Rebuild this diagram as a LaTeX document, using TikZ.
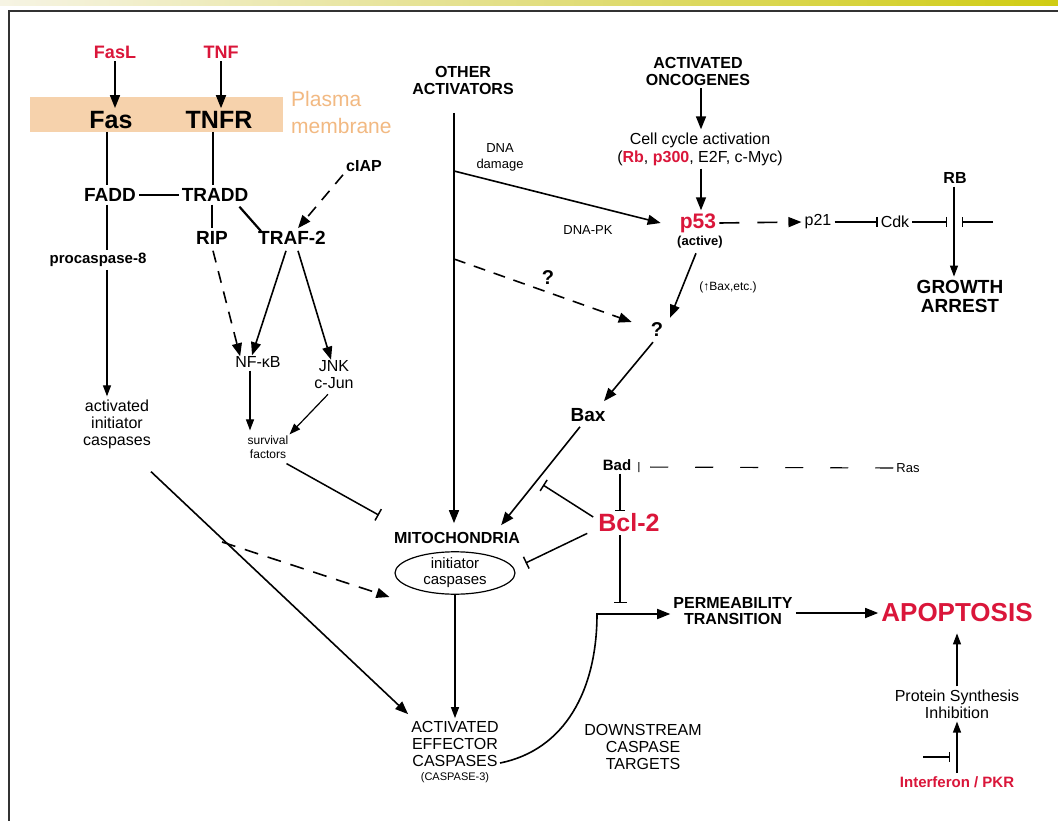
\documentclass[tikz,border=0pt]{standalone}
\usepackage{fontspec}
\setmainfont{Liberation Sans}
\usetikzlibrary{arrows.meta,calc,shapes.geometric}
\definecolor{myred}{RGB}{218,22,58}
\definecolor{memb}{RGB}{246,210,172}
\definecolor{membtxt}{RGB}{242,185,130}
\definecolor{barL}{RGB}{246,244,228}
\definecolor{barM}{RGB}{226,222,130}
\definecolor{barR}{RGB}{208,204,18}
\newcommand\fz[2]{\fontsize{#1}{#2}\selectfont}
\begin{document}
\begin{tikzpicture}[x=1pt,y=-1pt,
 lbl/.style={inner sep=3pt, align=center},
 arr/.style={line width=1.6pt,-{Triangle[length=13pt,width=10pt]}},
 tarr/.style={line width=1.2pt,-{Triangle[length=11pt,width=8pt]}},
 plain/.style={line width=1.6pt},
 inh/.style={line width=1.5pt,-{Bar[width=13pt,line width=1.5pt]}},
 tinh/.style={line width=1.1pt,-{Bar[width=10pt,line width=1.1pt]}},
 dsh/.style={dash pattern=on 12pt off 9pt},
]
\useasboundingbox (0,0) rectangle (1058,821);
\fill[white] (0,0) rectangle (1058,821);
\shade[left color=barL, right color=barR, middle color=barM] (0,0) rectangle (1058,6);
\draw[line width=2.5pt,black!80] (9,821) -- (9,11) -- (1058,11);

% membrane band
\fill[memb] (30,97) rectangle (283,132);
\node[anchor=west, align=left, inner sep=0pt, text=membtxt, font=\fz{21}{27}] (pm) at (291,112) {Plasma\\membrane};

% left receptors
\node[lbl,text=myred,font=\bfseries\fz{18}{20}] (fasl) at (115,52) {FasL};
\node[lbl,text=myred,font=\bfseries\fz{18}{20}] (tnf) at (221,52) {TNF};
\node[lbl,font=\bfseries\fz{25}{27}] (fas) at (111,120) {Fas};
\node[lbl,font=\bfseries\fz{25}{27}] (tnfr) at (219,120) {TNFR};
\draw[arr] (fasl) -- (fasl |- fas.north);
\draw[arr] (tnf) -- (tnf |- tnfr.north);

\node[lbl,font=\bfseries\fz{19}{21}] (fadd) at (110,195) {FADD};
\node[lbl,font=\bfseries\fz{19}{21}] (tradd) at (215,195) {TRADD};
\node[lbl,font=\bfseries\fz{19}{21}] (rip) at (212,238) {RIP};
\node[lbl,font=\bfseries\fz{19}{21}] (traf) at (292,238) {TRAF-2};
\node[lbl,font=\bfseries\fz{16}{18}] (ciap) at (364,166) {cIAP};
\node[lbl,font=\bfseries\fz{15}{17}] (proc) at (98,260) {procaspase-8};

\draw[plain] (fas.south -| 107,0) -- (fadd.north -| 107,0);
\draw[plain] (tnfr.south -| 213,0) -- (tradd.north -| 213,0);
\draw[plain] (fadd.east) -- (tradd.west);
\draw[plain] (fadd.south -| 107,0) -- (proc.north -| 107,0);
\draw[plain] (tradd.south -| 212,0) -- (rip.north -| 212,0);
\draw[line width=2.2pt] ($(tradd.south east)+(-12,2)$) -- ($(traf.north west)+(6,3)$);
\draw[arr,dsh] (ciap.south west) -- ($(traf.north)+(6,0)$);

% NF-kB branch
\node[lbl,font=\fz{16}{18}] (nfkb) at (258,362) {NF-κB};
\node[lbl,font=\fz{16}{17}] (jnk) at (334,375) {JNK\\c-Jun};
\node[lbl,font=\fz{12}{14}] (surv) at (268,447) {survival\\factors};
\draw[arr,dsh] ($(rip.south)+(1,3)$) -- ($(nfkb.north west)+(8,3)$);
\draw[arr] ($(traf.south)+(-6,3)$) -- ($(nfkb.north)+(-6,2)$);
\draw[arr] ($(traf.south)+(6,3)$) -- ($(jnk.north)+(-3,2)$);
\draw[tarr] ($(nfkb.south)+(-8,0)$) -- ($(surv.north)+(-18,-2)$);
\draw[tarr] ($(jnk.south)+(-6,2)$) -- ($(surv.north east)+(-2,2)$);

% activated initiator caspases
\node[lbl,font=\fz{16}{17}] (aic) at (117,424) {activated\\initiator\\caspases};
\draw[tarr] (proc.south -| 107,0) -- (aic.north -| 107,0);

% central column
\node[lbl,font=\bfseries\fz{16}{17}] (oa) at (463,80) {OTHER\\ACTIVATORS};
\coordinate (oatop) at (454,113);
\coordinate (dd) at (454,171);
\coordinate (dq) at (454,259);
\node[lbl,font=\bfseries\fz{16}{18}] (mito) at (457,538) {MITOCHONDRIA};
\node[draw, ellipse, line width=1.2pt, minimum width=120pt, minimum height=40pt, inner sep=0pt, align=center, font=\fz{15}{16}] (ell) at (455,573) {initiator\\caspases};
\draw[arr] (oatop) -- ($(oatop |- mito.north)+(0,-6)$);

\node[lbl,font=\fz{13}{16}] (dnad) at (500,157) {DNA\\damage};
\node[lbl,font=\fz{13}{15}] (dnapk) at (588,230) {DNA-PK};

% oncogene branch
\node[lbl,font=\bfseries\fz{16}{17}] (onc) at (698,71) {ACTIVATED\\ONCOGENES};
\node[lbl,font=\fz{16}{18}] (cca) at (700,149) {Cell cycle activation\\({\bfseries\color{myred}Rb}, {\bfseries\color{myred}p300}, E2F, c-Myc)};
\node[lbl,text=myred,font=\bfseries\fz{21}{23}] (p53) at (698,223) {p53};
\node[lbl,font=\bfseries\fz{13}{15}] (act) at (700,242) {(active)};
\draw[arr] (onc.south -| 701,0) -- (cca.north -| 701,0);
\draw[arr] (cca.south -| 701,0) -- (p53.north -| 701,0);
\draw[arr] (dd) -- ($(p53.west)+(-16,0)$);

\node[lbl,font=\fz{16}{18}] (p21) at (818,222) {p21};
\node[lbl,font=\fz{16}{18}] (cdk) at (895,222) {Cdk};
\draw[arr,dash pattern=on 20pt off 18pt] (p53.east) -- (p21.west);
\draw[tinh] (p21) -- (cdk);
\coordinate (rbl) at (947,222);
\coordinate (rbr) at (962,222);
\coordinate (rbe) at (993,222);
\draw[tinh] (cdk) -- (rbl);
\draw[tinh] (rbe) -- (rbr);
\node[lbl,font=\bfseries\fz{16}{18}] (rb) at (955,178) {RB};
\node[lbl,font=\bfseries\fz{19}{19}] (ga) at (960,296) {GROWTH\\ARREST};
\draw[tarr] (rb.south -| 954,0) -- (ga.north -| 954,0);

\node[lbl,font=\bfseries\fz{20}{22}] (q1) at (548,278) {?};
\node[lbl,font=\bfseries\fz{20}{22}] (q2) at (657,330) {?};
\node[lbl,font=\fz{12}{14}] (upbax) at (728,287) {(↑Bax,etc.)};
\draw[arr,dsh] (dq) -- ($(q2.west)+(-16,-8)$);
\draw[arr] ($(act.south)+(-4,2)$) -- ($(q2.north)+(13,-2)$);

\node[lbl,font=\bfseries\fz{19}{21}] (bax) at (588,415) {Bax};
\draw[arr] ($(q2.south)+(-4,2)$) -- ($(bax.north)+(16,-4)$);
\coordinate (baxmid) at (543,485);
\draw[arr] ($(bax.south)+(-8,2)$) -- ($(mito.north east)+(-22,-4)$);

\node[lbl,font=\bfseries\fz{15}{17}] (bad) at (617,465) {Bad};
\node[lbl,font=\fz{13}{15}] (ras) at (908,468) {Ras};
\node[lbl,text=myred,font=\bfseries\fz{25}{27}] (bcl) at (629,523) {Bcl-2};
\draw[tinh,dash pattern=on 18pt off 27pt] (ras.west) -- ($(bad.east)+(4,2)$);
\draw[tinh] (bad.south -| 620,0) -- (bcl.north -| 620,0);
\draw[inh] ($(bcl.west)+(-2,-6)$) -- (baxmid);
\draw[inh] ($(bcl.south west)+(-8,-2)$) -- ($(ell.east)+(10,-10)$);
\coordinate (ptbar) at (620,603);
\draw[inh] (bcl.south -| 620,0) -- (ptbar);

% survival inhibition and effector caspase pathway
\draw[inh] ($(surv.south east)+(-5,2)$) -- ($(mito.north west)+(-12,-14)$);
\node[lbl,font=\fz{16}{17}] (eff) at (455,744) {ACTIVATED\\EFFECTOR\\CASPASES};
\node[lbl,font=\fz{11}{13}] (c3) at (455,778) {(CASPASE-3)};
\draw[arr] ($(aic.south east)+(-3,20)$) -- ($(eff.north west)+(0,-4)$);
\coordinate (dstart) at (222,542);
\draw[arr,dash pattern=on 14pt off 10pt] (dstart) -- ($(ell.west)+(-5,24)$);
\draw[tarr] (ell.south) -- (ell.south |- eff.north);

% downstream
\node[lbl,font=\bfseries\fz{16}{16}] (pt) at (733,611) {PERMEABILITY\\TRANSITION};
\node[lbl,text=myred,font=\bfseries\fz{26}{28}] (apop) at (957,613) {APOPTOSIS};
\coordinate (c0) at (500,763);
\coordinate (corner) at (597,614);
\draw[arr] (c0) .. controls (565,750) and (597,690) .. (corner) -- (corner -| pt.west);
\draw[arr] (pt.east |- apop) -- (apop.west);
\node[lbl,font=\fz{16}{17}] (dst) at (643,747) {DOWNSTREAM\\CASPASE\\TARGETS};

\node[lbl,font=\fz{16}{17}] (psi) at (957,704) {Protein Synthesis\\Inhibition};
\node[lbl,text=myred,font=\bfseries\fz{15}{17}] (ifn) at (957,782) {Interferon / PKR};
\draw[tarr] (psi) -- ($(apop.south)+(0,8)$);
\draw[tarr] (ifn) -- (psi);
\coordinate (ifnl) at (923,757);
\coordinate (ifnb) at (950,757);
\draw[tinh] (ifnl) -- (ifnb);
\end{tikzpicture}
\end{document}
